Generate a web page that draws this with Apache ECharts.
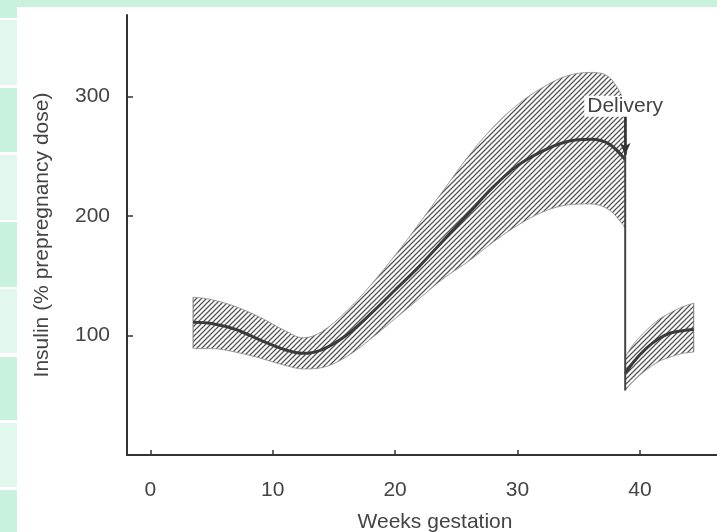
<!DOCTYPE html>
<html>
<head>
<meta charset="utf-8">
<script src="https://cdn.jsdelivr.net/npm/echarts@6/dist/echarts.min.js"></script>
<style>
  html, body { margin: 0; padding: 0; background: #fff; }
  #main { width: 717px; height: 532px; }
</style>
</head>
<body>
<div id="main"></div>
<script>
// weeks of gestation, before delivery
var weeksPre  = [3.5, 5, 7, 9, 11, 12.5, 14, 16, 18, 20, 22, 24, 26, 28, 30, 32, 34, 36, 37.5, 38.8];
var upperPre  = [132, 130, 124, 115, 104, 98, 103, 120, 142, 167, 194, 222, 250, 274, 293, 307, 317, 320, 316, 295];
var centerPre = [111, 110, 105, 96, 88, 85, 88, 100, 118, 138, 158, 180, 202, 224, 242, 254, 262, 264, 260, 247];
var lowerPre  = [89, 89, 86, 81, 75, 72, 73, 82, 97, 114, 131, 148, 162, 178, 192, 203, 209, 210, 205, 190];

// after delivery
var weeksPost  = [38.8, 39.5, 40.5, 41.5, 42.5, 43.5, 44.4];
var upperPost  = [82, 93, 104, 113, 119, 124, 127];
var centerPost = [68, 78, 89, 97, 102, 104, 105];
var lowerPost  = [54, 62, 71, 78, 82, 85, 86];

var deliveryWeek = 38.8;
var arrowFromTo = [283, 251];

var xTicks = [0, 10, 20, 30, 40];
var yTicks = [100, 200, 300];

function pairs(xs, ys) {
  return xs.map(function (x, i) { return [x, ys[i]]; });
}
function last(a) { return a[a.length - 1]; }

// diagonal hatching
function hatch() {
  var c = document.createElement('canvas');
  c.width = 5; c.height = 5;
  var ctx = c.getContext('2d');
  ctx.strokeStyle = '#555';
  ctx.lineWidth = 1.25;
  ctx.beginPath();
  ctx.moveTo(0, 5); ctx.lineTo(5, 0);
  ctx.moveTo(-1, 1); ctx.lineTo(1, -1);
  ctx.moveTo(4, 6); ctx.lineTo(6, 4);
  ctx.stroke();
  return c;
}
var hatchFill = { image: hatch(), repeat: 'repeat' };

var font = 'Liberation Sans';
var fs = 21;
var edge = { color: '#888', width: 0.8 };
var smooth = 0.35;

function bandTop(xs, ys) {
  return {
    type: 'line', data: pairs(xs, ys), smooth: smooth, symbol: 'none',
    lineStyle: edge, areaStyle: { color: hatchFill, opacity: 1, origin: 'start' }
  };
}
function bandBottom(xs, ys) {
  return {
    type: 'line', data: pairs(xs, ys), smooth: smooth, symbol: 'none',
    lineStyle: edge, areaStyle: { color: '#fff', opacity: 1, origin: 'start' }
  };
}
function plain(data, width, color) {
  return { type: 'line', data: data, symbol: 'none', lineStyle: { color: color, width: width } };
}

var chart = echarts.init(document.getElementById('main'));

var option = {
  backgroundColor: '#fff',
  animation: false,
  graphic: [
    { type: 'rect', left: 0, top: 0, shape: { width: 717, height: 7 }, style: { fill: '#c8f2dd' } },
    { type: 'rect', left: 0, top: 0, shape: { width: 17, height: 18 }, style: { fill: '#c8f2dd' } },
    { type: 'rect', left: 0, top: 20, shape: { width: 17, height: 65 }, style: { fill: '#e2f7ee' } },
    { type: 'rect', left: 0, top: 88, shape: { width: 17, height: 64 }, style: { fill: '#c8f2dd' } },
    { type: 'rect', left: 0, top: 155, shape: { width: 17, height: 65 }, style: { fill: '#e2f7ee' } },
    { type: 'rect', left: 0, top: 222, shape: { width: 17, height: 65 }, style: { fill: '#c8f2dd' } },
    { type: 'rect', left: 0, top: 289, shape: { width: 17, height: 64 }, style: { fill: '#e2f7ee' } },
    { type: 'rect', left: 0, top: 357, shape: { width: 17, height: 63 }, style: { fill: '#c8f2dd' } },
    { type: 'rect', left: 0, top: 423, shape: { width: 17, height: 64 }, style: { fill: '#e2f7ee' } },
    { type: 'rect', left: 0, top: 490, shape: { width: 17, height: 42 }, style: { fill: '#c8f2dd' } }
  ],
  grid: { left: 127, right: 0, top: 15, bottom: 77, outerBoundsMode: 'none', containLabel: false },
  xAxis: {
    type: 'value', min: -1.9, max: 46.3, z: 10,
    axisLine: { onZero: false, lineStyle: { color: '#333', width: 2 } },
    axisTick: { inside: true, length: 5, customValues: xTicks, lineStyle: { color: '#333', width: 1.5 } },
    axisLabel: { customValues: xTicks, margin: 25, fontSize: fs, color: '#444', fontFamily: font },
    splitLine: { show: false },
    name: 'Weeks gestation', nameLocation: 'middle', nameGap: 57,
    nameTextStyle: { fontSize: fs, color: '#444', fontFamily: font, padding: [0, 0, 0, 26] }
  },
  yAxis: {
    type: 'value', min: 0, max: 368, z: 10,
    axisLine: { show: true, onZero: false, lineStyle: { color: '#333', width: 2 } },
    axisTick: { show: true, inside: true, length: 6, customValues: yTicks, lineStyle: { color: '#333', width: 1.5 } },
    axisLabel: { customValues: yTicks, margin: 17, fontSize: fs, color: '#444', fontFamily: font },
    splitLine: { show: false },
    name: 'Insulin (% prepregnancy dose)', nameLocation: 'middle', nameGap: 74, nameRotate: 90,
    nameTextStyle: { fontSize: fs, color: '#444', fontFamily: font }
  },
  series: [
    bandTop(weeksPre, upperPre),
    bandBottom(weeksPre, lowerPre),
    bandTop(weeksPost, upperPost),
    bandBottom(weeksPost, lowerPost),
    // hide the seams that the area fills leave below the bands
    plain([[weeksPre[0], 0], [weeksPre[0], lowerPre[0]]], 2.5, '#fff'),
    plain([[deliveryWeek, 0], [deliveryWeek, lowerPost[0]]], 2.5, '#fff'),
    plain([[last(weeksPost), 0], [last(weeksPost), last(lowerPost)]], 2.5, '#fff'),
    plain([[weeksPre[0], lowerPre[0]], [weeksPre[0], upperPre[0]]], 1, '#777'),
    plain([[last(weeksPost), last(lowerPost)], [last(weeksPost), last(upperPost)]], 1, '#777'),
    Object.assign(plain(pairs(weeksPre, centerPre), 3, '#3a3a3a'), { smooth: smooth }),
    Object.assign(plain(pairs(weeksPost, centerPost), 3, '#3a3a3a'), { smooth: smooth }),
    Object.assign(plain([[deliveryWeek, last(upperPre)], [deliveryWeek, lowerPost[0]]], 2, '#444'), {
      markLine: {
        silent: true,
        symbol: ['none', 'arrow'],
        symbolSize: [8, 12],
        lineStyle: { color: '#333', width: 2.5, type: 'solid' },
        label: {
          show: true, position: 'start', formatter: 'Delivery', distance: 0,
          fontSize: fs, color: '#444', fontFamily: font,
          backgroundColor: '#fff', padding: [0, 3]
        },
        data: [[{ coord: [deliveryWeek, arrowFromTo[0]] }, { coord: [deliveryWeek, arrowFromTo[1]] }]]
      }
    })
  ]
};

chart.setOption(option);
</script>
</body>
</html>
